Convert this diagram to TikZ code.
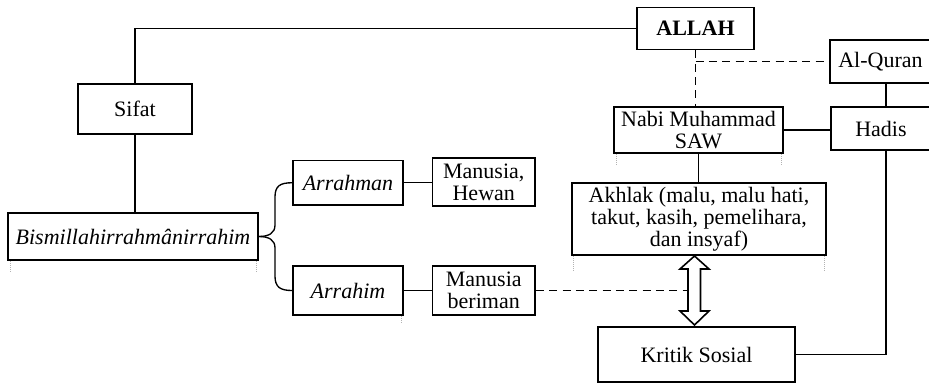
\documentclass[tikz,border=0pt]{standalone}
\usepackage{fontspec}
\setmainfont{Liberation Serif}
\begin{document}
\begin{tikzpicture}[x=0.75pt,y=-0.75pt,
 box/.style={draw, line width=1.4pt, inner sep=0pt, align=center, font=\fontsize{16.5}{16.5}\selectfont,
   execute at begin node={\setlength{\baselineskip}{16.5pt}}},
 sz/.style 2 args={minimum width=0.75*#1 pt, minimum height=0.75*#2 pt},
 conn/.style={line width=1pt},
 dsh/.style={line width=1pt, dash pattern=on 6pt off 4pt},
 tick/.style={gray!60, line width=0.5pt, densely dotted}]
\useasboundingbox (0,0) rectangle (929,383);
\node[box, sz={117}{42}] (allah) at (695.5,28.5) {\bfseries ALLAH};
\node[box, sz={101}{43}] (alquran) at (880.5,61.5) {Al-Quran};
\node[box, sz={100}{43}] (hadis) at (881,128.5) {Hadis};
\node[box, sz={169}{46}] (nabi) at (698.5,130) {Nabi Muhammad\\SAW};
\node[box, sz={114}{50}] (sifat) at (135,109) {Sifat};
\node[box, sz={250}{47}] (bism) at (133,236.5) {\itshape Bismillahirrahmânirrahim};
\node[box, sz={110}{44.5}] (arrahman) at (348,182.75) {\itshape Arrahman};
\node[box, sz={102.5}{48}] (manhewan) at (483.75,182) {Manusia,\\Hewan};
\node[box, sz={110}{49}] (arrahim) at (348,290.5) {\itshape Arrahim};
\node[box, sz={102.5}{49}] (manberiman) at (483.75,290.5) {Manusia\\beriman};
\node[box, sz={254}{72}] (akhlak) at (699,219) {Akhlak (malu, malu hati,\\takut, kasih, pemelihara,\\dan insyaf)};
\node[box, sz={197}{55}] (kritik) at (696.5,354.5) {Kritik Sosial};
% connectors
\coordinate (qx) at (886,0);
\coordinate (ax) at (688,0);
\draw[conn] (sifat.north) |- (allah.west);
\draw[conn] (sifat.south) -- (sifat.south |- bism.north);
\draw[conn] (arrahman.west) .. controls (280,182.75) and (275,186) .. (275,197) -- (275,225) .. controls (275,233) and (269,236.5) .. (bism.east);
\draw[conn] (arrahim.west) .. controls (280,290.5) and (275,287) .. (275,276) -- (275,248) .. controls (275,240) and (269,236.5) .. (bism.east);
\draw[conn] (arrahman.east) -- (arrahman.east -| manhewan.west);
\draw[conn] (arrahim.east) -- (manberiman.west);
\draw[dsh] (manberiman.east) -- (manberiman.east -| ax);
\draw[dsh] (allah.south) -- (allah.south |- nabi.north);
\draw[dsh] (allah.south |- alquran.west) -- (alquran.west);
\draw[conn] (alquran.south -| qx) -- (hadis.north -| qx);
\draw[conn] (hadis.south -| qx) |- (kritik.east);
\draw[conn] (nabi.east) -- (nabi.east -| hadis.west);
\draw[conn] (nabi.south) -- (nabi.south |- akhlak.north);
% double arrow
\draw[line width=1.2pt, fill=white, line join=miter]
 (694.5,256) -- (709,269) -- (700.5,269) -- (700.5,311) -- (709,311) -- (694.5,325)
 -- (680,311) -- (688,311) -- (688,269) -- (680,269) -- cycle;
% faint table ticks
\draw[tick] (10,261) -- (10,272);
\draw[tick] (256,261) -- (256,272);
\draw[tick] (616,154) -- (616,166);
\draw[tick] (781,154) -- (781,166);
\draw[tick] (573,256) -- (573,272);
\draw[tick] (824,256) -- (824,272);
\draw[tick] (401,316) -- (401,324);
\end{tikzpicture}
\end{document}
